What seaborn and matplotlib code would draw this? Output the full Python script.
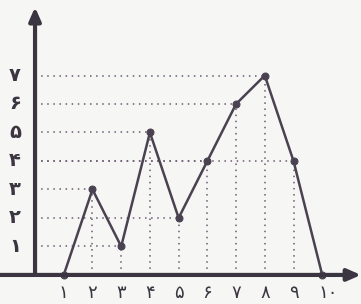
import matplotlib
matplotlib.use("Agg")
import matplotlib.pyplot as plt
import seaborn as sns
import pandas as pd

x_vals = [1, 2, 3, 4, 5, 6, 7, 8, 9, 10]
y_vals = [0, 3, 1, 5, 2, 4, 6, 7, 4, 0]
x_labels = ["۱", "۲", "۳", "۴", "۵", "۶", "۷", "۸", "۹", "۱۰"]
y_ticks = [1, 2, 3, 4, 5, 6, 7]
y_labels = ["۱", "۲", "۳", "۴", "۵", "۶", "۷"]

sns.set_style("white")
plt.rcParams['font.family'] = ['DejaVu Sans']

df = pd.DataFrame({"x": x_vals, "y": y_vals})

fig = plt.figure(figsize=(3.61, 3.04), dpi=100, facecolor="#f6f6f4")
ax = fig.add_axes([0, 0, 1, 1])
ax.set_facecolor("#f6f6f4")

dot_color = "#6a5a70"
for xv, yv in zip(x_vals, y_vals):
    if yv > 0:
        ax.plot([0, xv], [yv, yv], linestyle=(0, (1, 3)), color=dot_color, lw=1.1, zorder=1)
        ax.plot([xv, xv], [0, yv], linestyle=(0, (1, 3)), color=dot_color, lw=1.1, zorder=1)

line_color = "#4a4250"
sns.lineplot(data=df, x="x", y="y", ax=ax, color=line_color, lw=1.8,
             marker="o", markersize=5, markeredgecolor=line_color, zorder=3)
ax.axis("off")
ax.set_xlim(-1.22, 11.35)
ax.set_ylim(-1.02, 9.65)

axis_color = "#3a3540"
ax.annotate("", xy=(11.35, 0), xytext=(-1.22, 0),
            arrowprops=dict(arrowstyle="-|>,head_length=0.8,head_width=0.35",
                            color=axis_color, lw=3, shrinkA=0, shrinkB=0), zorder=4)
ax.annotate("", xy=(0, 9.4), xytext=(0, 0),
            arrowprops=dict(arrowstyle="-|>,head_length=0.8,head_width=0.35",
                            color=axis_color, lw=3, shrinkA=0, shrinkB=0), zorder=4)

for xv, lab in zip(x_vals, x_labels):
    ax.text(xv + (0.2 if xv == 10 else 0), -0.62, lab, ha="center", va="center",
            fontsize=13, color="#3a3540")
for yv, lab in zip(y_ticks, y_labels):
    ax.text(-0.7, yv, lab, ha="center", va="center", fontsize=14,
            fontweight="bold", color="#3a3540")

fig.savefig("out.png", dpi=100, facecolor=fig.get_facecolor())
